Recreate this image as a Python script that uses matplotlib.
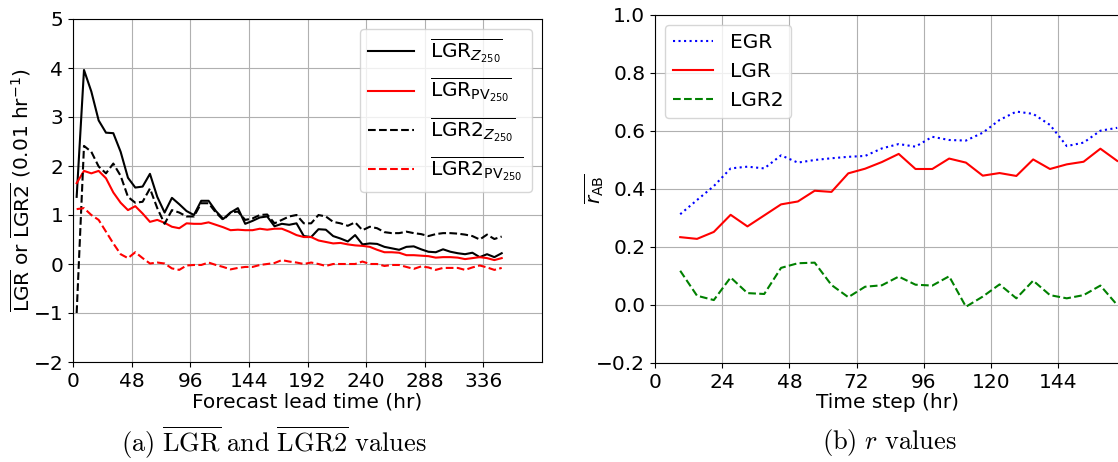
import numpy as np
import matplotlib
matplotlib.use("Agg")
from matplotlib import pyplot as plt

# ---- left panel data: forecast lead time (hr), values in 0.01 hr^-1
lead_time = np.arange(3, 352, 6)

lgr_z = [1.37, 3.96, 3.52, 2.93, 2.68, 2.67, 2.29, 1.76, 1.56, 1.58,
         1.84, 1.37, 1.05, 1.35, 1.22, 1.08, 1.00, 1.29, 1.29, 1.08,
         0.92, 1.05, 1.14, 0.82, 0.88, 0.95, 0.97, 0.77, 0.82, 0.80,
         0.83, 0.57, 0.55, 0.71, 0.70, 0.57, 0.52, 0.46, 0.59, 0.40,
         0.42, 0.41, 0.35, 0.32, 0.29, 0.35, 0.36, 0.30, 0.25, 0.24,
         0.30, 0.25, 0.22, 0.20, 0.23, 0.14, 0.20, 0.14, 0.22]

lgr_pv = [1.65, 1.90, 1.85, 1.90, 1.75, 1.46, 1.25, 1.10, 1.18, 1.03,
          0.86, 0.90, 0.84, 0.76, 0.73, 0.83, 0.82, 0.82, 0.85, 0.80,
          0.75, 0.69, 0.70, 0.69, 0.69, 0.72, 0.70, 0.72, 0.72, 0.66,
          0.59, 0.55, 0.55, 0.48, 0.45, 0.42, 0.43, 0.40, 0.38, 0.37,
          0.35, 0.29, 0.24, 0.24, 0.23, 0.18, 0.18, 0.17, 0.16, 0.13,
          0.14, 0.14, 0.13, 0.10, 0.12, 0.14, 0.12, 0.08, 0.12]

lgr2_z = [-1.00, 2.41, 2.29, 1.99, 1.85, 2.05, 1.80, 1.37, 1.25, 1.27,
          1.54, 1.14, 0.82, 1.10, 1.05, 0.97, 0.97, 1.24, 1.24, 1.05,
          0.90, 1.05, 1.07, 0.90, 0.93, 1.00, 1.01, 0.83, 0.90, 0.97,
          1.00, 0.83, 0.83, 1.00, 0.97, 0.86, 0.83, 0.78, 0.85, 0.69,
          0.76, 0.73, 0.65, 0.63, 0.63, 0.66, 0.63, 0.61, 0.57, 0.61,
          0.63, 0.63, 0.62, 0.60, 0.57, 0.50, 0.60, 0.51, 0.56]

lgr2_pv = [1.12, 1.14, 1.00, 0.90, 0.66, 0.42, 0.20, 0.12, 0.24, 0.12,
           0.01, 0.03, 0.01, -0.09, -0.12, -0.03, -0.02, -0.02, 0.03, -0.02,
           -0.06, -0.11, -0.08, -0.06, -0.06, -0.02, 0.00, 0.02, 0.08, 0.05,
           0.03, 0.00, 0.03, 0.00, -0.04, 0.00, 0.00, 0.00, 0.00, 0.05,
           0.00, 0.00, -0.04, -0.02, -0.02, -0.06, -0.10, -0.05, -0.07, -0.12,
           -0.08, -0.08, -0.08, -0.12, -0.07, -0.03, -0.07, -0.12, -0.08]

# ---- right panel data: time step (hr), mean correlation
time_step = np.arange(9, 166, 6)

r_egr = [0.313, 0.362, 0.410, 0.471, 0.477, 0.471, 0.516, 0.491, 0.500,
         0.506, 0.511, 0.514, 0.540, 0.555, 0.546, 0.580, 0.569, 0.567,
         0.594, 0.638, 0.667, 0.659, 0.621, 0.548, 0.560, 0.601, 0.611]
r_lgr = [0.234, 0.228, 0.252, 0.311, 0.271, 0.309, 0.347, 0.357, 0.394,
         0.390, 0.454, 0.470, 0.493, 0.521, 0.469, 0.469, 0.505, 0.491,
         0.446, 0.455, 0.445, 0.502, 0.469, 0.485, 0.494, 0.539, 0.497]
r_lgr2 = [0.118, 0.032, 0.017, 0.095, 0.041, 0.038, 0.128, 0.144, 0.146,
          0.069, 0.027, 0.063, 0.068, 0.098, 0.070, 0.067, 0.099, -0.006,
          0.029, 0.071, 0.023, 0.084, 0.034, 0.023, 0.034, 0.067, 0.000]

FS = 14.5
W, H = 1118, 462

fig = plt.figure(figsize=(W / 100, H / 100), dpi=100)

# left panel
ax1 = fig.add_axes([73 / W, 1 - 362 / H, 469 / W, 343 / H])
ax1.plot(lead_time, lgr_z, color="k", ls="-", label=r"$\overline{\mathrm{LGR}_{Z_{250}}}$")
ax1.plot(lead_time, lgr_pv, color="r", ls="-", label=r"$\overline{\mathrm{LGR}_{\mathrm{PV}_{250}}}$")
ax1.plot(lead_time, lgr2_z, color="k", ls="--", label=r"$\overline{\mathrm{LGR2}_{Z_{250}}}$")
ax1.plot(lead_time, lgr2_pv, color="r", ls="--", label=r"$\overline{\mathrm{LGR2}_{\mathrm{PV}_{250}}}$")
ax1.set_xlim(0, 384)
ax1.set_ylim(-2, 5)
ax1.set_xticks(np.arange(0, 337, 48))
ax1.set_yticks(np.arange(-2, 6, 1))
ax1.grid(True)
ax1.tick_params(labelsize=FS)
ax1.set_xlabel("Forecast lead time (hr)", fontsize=FS, labelpad=1)
ax1.set_ylabel(r"$\overline{\mathrm{LGR}}$ or $\overline{\mathrm{LGR2}}$ (0.01 hr$^{-1}$)",
               fontsize=FS)
ax1.yaxis.set_label_coords(-0.085, 0.5)
ax1.legend(loc="upper right", fontsize=FS, handlelength=2.3)

# right panel
ax2 = fig.add_axes([655 / W, 1 - 363 / H, 465 / W, 348 / H])
ax2.plot(time_step, r_egr, color="b", ls=":", label="EGR")
ax2.plot(time_step, r_lgr, color="r", ls="-", label="LGR")
ax2.plot(time_step, r_lgr2, color="g", ls="--", label="LGR2")
ax2.set_xlim(0, 166)
ax2.set_ylim(-0.2, 1.0)
ax2.set_xticks(np.arange(0, 145, 24))
ax2.set_yticks(np.arange(-0.2, 1.01, 0.2))
ax2.grid(True)
ax2.tick_params(labelsize=FS)
ax2.set_xlabel("Time step (hr)", fontsize=FS, labelpad=1)
ax2.set_ylabel(r"$\overline{r_{\mathrm{AB}}}$", fontsize=FS)
ax2.yaxis.set_label_coords(-0.105, 0.5)
ax2.legend(loc="upper left", fontsize=FS, handlelength=2.0)

# captions (Computer Modern look)
fig.text(274 / W, 1 - 443 / H,
         r"$\mathrm{(a)\ \overline{LGR}\ and\ \overline{LGR2}\ values}$",
         ha="center", va="center", fontsize=19, math_fontfamily="cm")
fig.text(889 / W, 1 - 443 / H, r"$\mathrm{(b)}\ r\ \mathrm{values}$",
         ha="center", va="center", fontsize=19, math_fontfamily="cm")

fig.savefig("out.png", dpi=100)
